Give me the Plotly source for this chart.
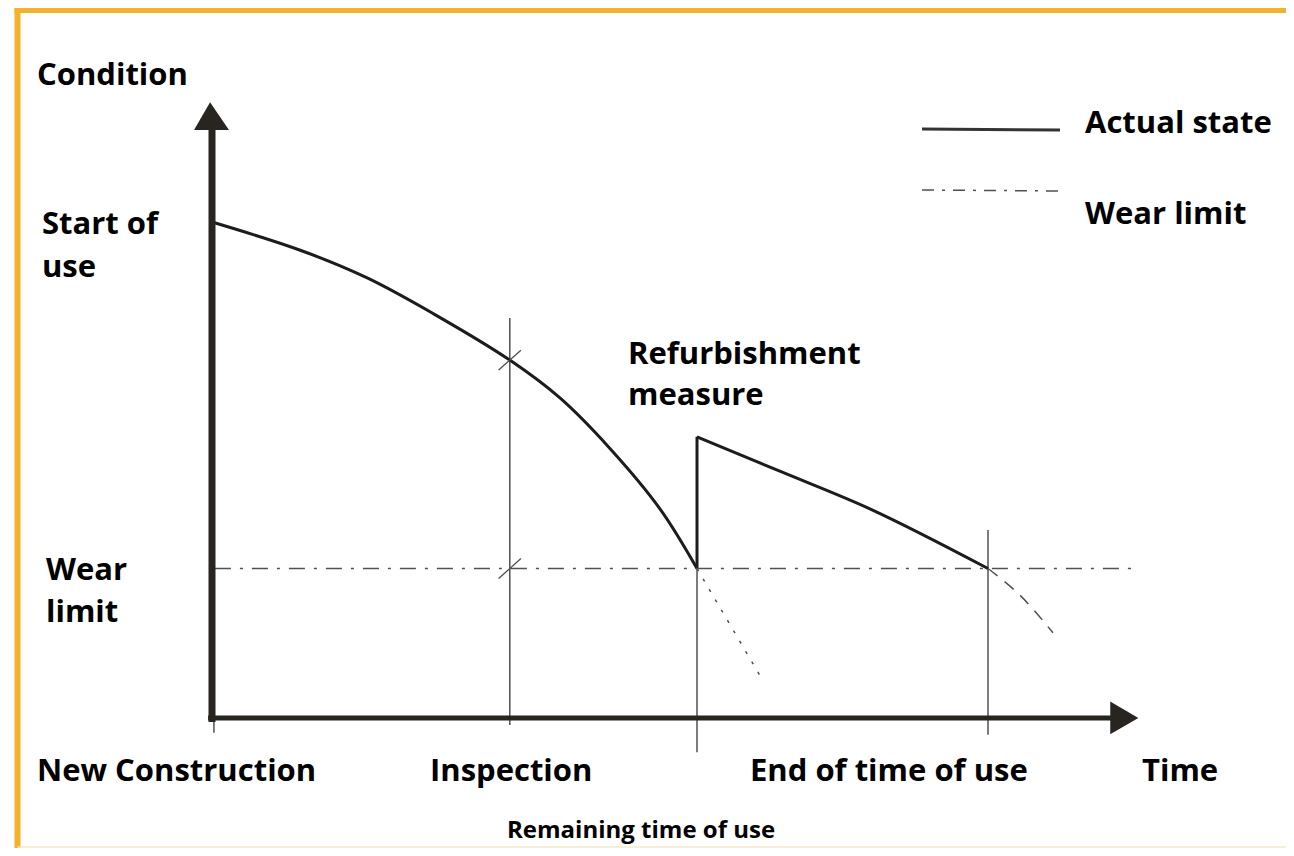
import plotly.graph_objects as go

# ---------------- data (time units / condition units) ----------------
curve1_time = [0, 9.1, 16.0, 22.8, 30.7, 35.9, 41.0, 46.2, 50.0]
curve1_cond = [100, 94.3, 88.7, 81.5, 72.1, 64.4, 54.3, 42.0, 30.0]

jump_time = [50.0, 50.0]
jump_cond = [30.0, 56.6]

curve2_time = [50.0, 58.6, 68.1, 80.0]
curve2_cond = [56.6, 49.6, 41.8, 30.0]

wear_time = [0.3, 95.6]
wear_cond = [30.0, 30.0]

decline1_time = [50.0, 56.6]
decline1_cond = [30.0, 8.0]

decline2_time = [80.0, 83.3, 86.7]
decline2_cond = [30.0, 24.6, 17.0]

milestone_time = [30.7, 50.0, 80.0]
milestone_top = [80.6, 56.6, 37.8]
milestone_bottom = [-1.6, -7.1, -3.6]

x_labels = ["New Construction", "Inspection", "End of time of use", "Time"]

# ---------------- geometry ----------------
OFF = 8
W, H = 1278, 840
XR = [(OFF - 212) / 9.7, (OFF + W - 212) / 9.7]
YR = [(717 - OFF - H) / 4.95, (717 - OFF) / 4.95]


def px(x):
    return (x - OFF) / W


def py(y):
    return 1 - (y - OFF) / H


INK = "#1c1c1c"
AX = "#28241f"
GRAY = "#505050"
FONT = "Open Sans"

fig = go.Figure()

# main curves
fig.add_trace(go.Scatter(x=curve1_time, y=curve1_cond, mode="lines",
                         line=dict(color=INK, width=3, shape="spline", smoothing=1.0),
                         hoverinfo="skip"))
fig.add_trace(go.Scatter(x=jump_time, y=jump_cond, mode="lines",
                         line=dict(color=INK, width=3), hoverinfo="skip"))
fig.add_trace(go.Scatter(x=curve2_time, y=curve2_cond, mode="lines",
                         line=dict(color=INK, width=3, shape="spline", smoothing=1.0),
                         hoverinfo="skip"))
# wear limit
fig.add_trace(go.Scatter(x=wear_time, y=wear_cond, mode="lines",
                         line=dict(color=GRAY, width=1.5, dash="16px,9px,3px,9px"),
                         hoverinfo="skip"))
# declines
fig.add_trace(go.Scatter(x=decline1_time, y=decline1_cond, mode="lines",
                         line=dict(color=GRAY, width=1.5, dash="3px,9px"), hoverinfo="skip"))
fig.add_trace(go.Scatter(x=decline2_time, y=decline2_cond, mode="lines",
                         line=dict(color=GRAY, width=1.5, dash="12px,9px", shape="spline"),
                         hoverinfo="skip"))

shapes = []
# milestone vertical lines
for t, a, b in zip(milestone_time, milestone_top, milestone_bottom):
    shapes.append(dict(type="line", xref="x", yref="y", x0=t, x1=t, y0=b, y1=a,
                       line=dict(color=GRAY, width=1.5), layer="below"))
# new construction tick
shapes.append(dict(type="line", xref="x", yref="y", x0=0.2, x1=0.2, y0=0, y1=-3.2,
                   line=dict(color=GRAY, width=1.5)))
# slash marks at inspection
for c in [curve1_cond[4], wear_cond[0]]:
    shapes.append(dict(type="line", xref="x", yref="y", x0=30.7 - 1.15, x1=30.7 + 1.15,
                       y0=c - 2.0, y1=c + 2.0, line=dict(color=GRAY, width=1.3)))

# axes
shapes.append(dict(type="line", xref="x", yref="y", x0=0, x1=0, y0=-1.0, y1=119,
                   line=dict(color=AX, width=7)))
shapes.append(dict(type="line", xref="x", yref="y", x0=-0.4, x1=92.8, y0=-0.2, y1=-0.2,
                   line=dict(color=AX, width=5)))
# arrow heads
shapes.append(dict(type="path", xref="x", yref="y",
                   path="M -1.85,118.6 L 1.75,118.6 L -0.2,124.2 Z",
                   fillcolor=AX, line=dict(color=AX, width=0)))
shapes.append(dict(type="path", xref="x", yref="y",
                   path="M 92.6,3.15 L 92.6,-3.5 L 95.5,-0.2 Z",
                   fillcolor=AX, line=dict(color=AX, width=0)))

# orange frame
ORANGE = "#F4B12A"
shapes.append(dict(type="line", xref="paper", yref="paper", x0=px(14.5), x1=1.01,
                   y0=py(10), y1=py(10), line=dict(color=ORANGE, width=6)))
shapes.append(dict(type="line", xref="paper", yref="paper", x0=px(17.5), x1=px(17.5),
                   y0=py(7), y1=py(850), line=dict(color=ORANGE, width=6)))
shapes.append(dict(type="line", xref="paper", yref="paper", x0=px(17.5), x1=1.01,
                   y0=py(847), y1=py(847), line=dict(color="#f6e8cc", width=1.5)))

# legend lines
shapes.append(dict(type="line", xref="paper", yref="paper", x0=px(922), x1=px(1060),
                   y0=py(129), y1=py(130), line=dict(color="#333333", width=3)))
shapes.append(dict(type="line", xref="paper", yref="paper", x0=px(922), x1=px(1063),
                   y0=py(190), y1=py(191),
                   line=dict(color=GRAY, width=1.5, dash="12px,8px,3px,8px")))

annotations = []


def txt(s, x, y, anchor="left", size=31):
    annotations.append(dict(text="<b>" + s + "</b>", xref="paper", yref="paper",
                            x=px(x), y=py(y), xanchor=anchor, yanchor="middle",
                            showarrow=False,
                            font=dict(family=FONT, size=size, color="#000000")))


txt("Condition", 35, 73)
txt("Start of", 40, 222)
txt("use", 40, 265)
txt("Wear", 44, 568)
txt("limit", 44, 610)
txt("Refurbishment", 626, 352)
txt("measure", 626, 393)
txt("Actual state", 1083, 121)
txt("Wear limit", 1083, 212)
txt(x_labels[0], 35, 769)
txt(x_labels[1], 428, 769)
txt(x_labels[2], 748, 769)
txt(x_labels[3], 1140, 769)
txt("Remaining time of use", 641, 828, anchor="center", size=24)

fig.update_layout(
    width=W, height=H,
    margin=dict(l=0, r=0, t=0, b=0),
    paper_bgcolor="white", plot_bgcolor="white",
    showlegend=False,
    xaxis=dict(range=XR, visible=False, fixedrange=True),
    yaxis=dict(range=YR, visible=False, fixedrange=True),
    shapes=shapes,
    annotations=annotations,
)

fig.write_html("out.html")
